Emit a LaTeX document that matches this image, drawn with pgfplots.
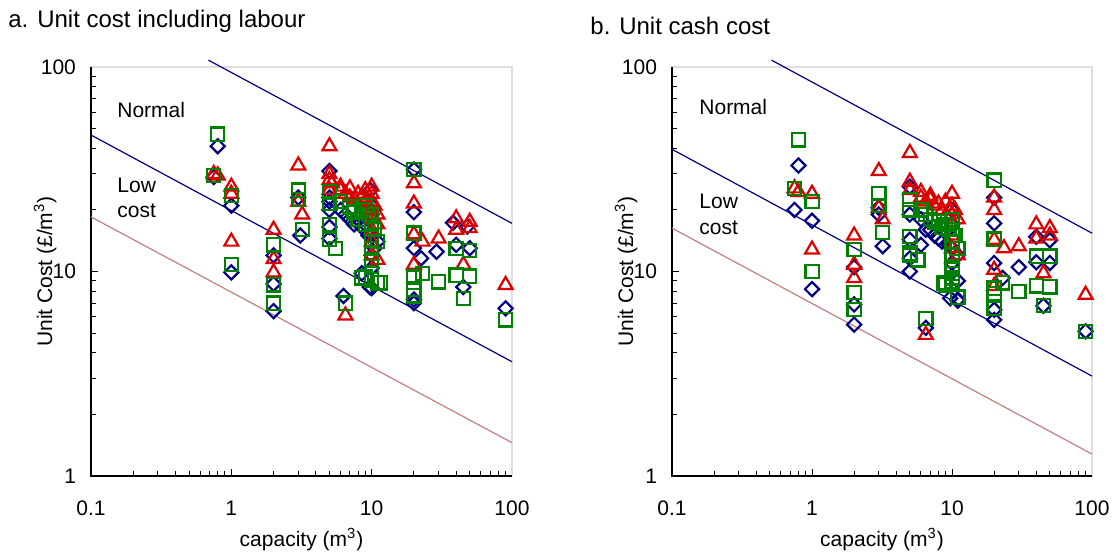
\documentclass[border=0pt]{standalone}
\usepackage{fontspec}
\setmainfont{Liberation Sans}
\usepackage{pgfplots}
\pgfplotsset{compat=1.18}
\definecolor{navy}{HTML}{000080}
\definecolor{cred}{HTML}{DD0000}
\definecolor{cgreen}{HTML}{008000}
\definecolor{brownl}{HTML}{C08080}
\pgfplotsset{
  dia/.style={only marks, mark=square, mark size=2.5pt, color=navy, mark options={rotate=45, solid, line width=1.1pt}},
  tri/.style={only marks, mark=triangle, mark size=4pt, color=cred, mark options={solid, line width=1.1pt}},
  sqr/.style={only marks, mark=square, mark size=3.3pt, color=cgreen, mark options={solid, line width=1.1pt}},
}
\begin{document}
\begin{tikzpicture}
\path[use as bounding box] (0,0) rectangle (556pt,276pt);
% ---------- left panel ----------
\begin{axis}[
    xmode=log, ymode=log, xmin=0.1, xmax=100, ymin=1, ymax=100,
    scale only axis, width=210.5pt, height=204.5pt, anchor=south west, at={(45.5pt,38pt)},
    xtick={0.1,1,10,100}, xticklabels={0.1,1,10,100},
    ytick={1,10,100}, yticklabels={1,10,100},
    minor xtick={0.2,0.3,0.4,0.5,0.6,0.7,0.8,0.9,2,3,4,5,6,7,8,9,20,30,40,50,60,70,80,90},
    minor ytick={2,3,4,5,6,7,8,9,20,30,40,50,60,70,80,90},
    tick align=inside, tick pos=left,
    major tick length=3.5pt, minor tick length=2.5pt,
    every tick/.style={black, line width=0.5pt},
    axis line style={draw=gray!25, line width=0.6pt},
    clip=false,
    font=\fontsize{10.5}{12.6}\selectfont,
    xticklabel style={anchor=center, yshift=-16pt},
    yticklabel style={anchor=east, xshift=-4pt},
    xlabel={capacity (m\textsuperscript{3})},
    ylabel={Unit Cost (£/m\textsuperscript{3})},
    x label style={at={(axis description cs:0.5,-0.156)}, anchor=center},
    y label style={at={(axis description cs:-0.109,0.5)}, rotate=0, anchor=center},
]
\draw[black, line width=0.6pt] (rel axis cs:0,1) -- (rel axis cs:0,0) -- (rel axis cs:1,0);
\addplot[navy, line width=0.6pt] coordinates {(0.687,108) (100,17.2)};
\addplot[navy, line width=0.6pt] coordinates {(0.1,46.5) (100,3.62)};
\addplot[brownl, line width=0.6pt] coordinates {(0.1,18.5) (100,1.455)};
\addplot[dia] coordinates {
(0.8,41) (0.75,29) (1,21) (1,9.9)
(2,12) (2,8.7) (2,6.4)
(3,23) (3.1,15)
(5,31) (5,23) (5,22) (5,20) (5,16.5) (5,14.5)
(6,20) (6.5,19) (7,18) (7.5,17) (8,18) (8.5,16.5) (9,17) (9.5,15) (9.8,25) (10,21) (10,19) (10,15) (10,12) (10.5,13) (11,14) (10,10.4) (10,8.3) (8.5,9.8) (9.7,8.4) (6.3,7.6)
(20,31.5) (20,19.5) (20,13) (22.5,11.6) (29,12.5) (20,7.3) (20,7) (38,17.3) (48,16.6) (40,13.5) (50,13) (45,8.4) (90,6.6)
};
\addplot[tri] coordinates {
(0.75,30) (0.8,29.5) (1,26) (1,24) (1,14)
(2,16) (2,11.5) (2,9.9)
(3,33) (3,22) (3.2,19)
(5,41) (5,30) (5,28) (5.2,27) (5,25) (6,26) (6,25) (7,25.5) (6.5,24) (7,23) (7.5,22.5) (8,24) (8.5,23) (9,22) (9,25) (9.5,21) (10,26) (10,24) (10,22) (10,20) (10.5,21) (11,19) (11,17) (10,18) (10,16) (10,14) (10,12) (11,11.4) (6.5,6.1)
(20,27) (20,21.5) (20,15.2) (23,14) (30,14.5) (20,10.8) (40,18.2) (50,17.5) (40,16) (50,16.3) (45,10.8) (90,8.6)
};
\addplot[sqr] coordinates {
(0.8,47) (0.75,29.5) (1,23.5) (1,10.8)
(2,13.5) (2,8.6) (2,7)
(3,25) (3,22.5) (3.2,16)
(5,24.5) (5,21.5) (5,17) (5,14.3) (5.5,13) (6,22) (7,20.7) (7.5,19.5) (8,18) (8.5,20) (9,21) (9,17) (9.5,19) (10,19) (10,17) (10,15) (10,13) (10,12.3) (10,11.4) (10,10.6) (10.5,16) (11,14) (9,9.4) (10,9.1) (11.5,8.8) (8.5,9.3) (11,8.8) (6.5,7)
(20,31.6) (20,15.4) (23,9.8) (20,9.4) (30,8.9) (20,8.2) (20,7.6) (40,13) (50,12.7) (40,9.6) (50,9.5) (45,7.4) (90,5.8)
};
\end{axis}
% ---------- right panel ----------
\begin{axis}[
    xmode=log, ymode=log, xmin=0.1, xmax=100, ymin=1, ymax=100,
    scale only axis, width=210pt, height=204.5pt, anchor=south west, at={(336pt,38pt)},
    xtick={0.1,1,10,100}, xticklabels={0.1,1,10,100},
    ytick={1,10,100}, yticklabels={1,10,100},
    minor xtick={0.2,0.3,0.4,0.5,0.6,0.7,0.8,0.9,2,3,4,5,6,7,8,9,20,30,40,50,60,70,80,90},
    minor ytick={2,3,4,5,6,7,8,9,20,30,40,50,60,70,80,90},
    tick align=inside, tick pos=left,
    major tick length=3.5pt, minor tick length=2.5pt,
    every tick/.style={black, line width=0.5pt},
    axis line style={draw=gray!25, line width=0.6pt},
    clip=false,
    font=\fontsize{10.5}{12.6}\selectfont,
    xticklabel style={anchor=center, yshift=-16pt},
    yticklabel style={anchor=east, xshift=-4pt},
    xlabel={capacity (m\textsuperscript{3})},
    ylabel={Unit Cost (£/m\textsuperscript{3})},
    x label style={at={(axis description cs:0.5,-0.156)}, anchor=center},
    y label style={at={(axis description cs:-0.109,0.5)}, rotate=0, anchor=center},
]
\draw[black, line width=0.6pt] (rel axis cs:0,1) -- (rel axis cs:0,0) -- (rel axis cs:1,0);
\addplot[navy, line width=0.6pt] coordinates {(0.514,108) (100,15.4)};
\addplot[navy, line width=0.6pt] coordinates {(0.1,39.6) (100,3.08)};
\addplot[brownl, line width=0.6pt] coordinates {(0.1,16.3) (100,1.28)};
\addplot[dia] coordinates {
(0.8,33) (0.75,20) (1,17.7) (1,8.2)
(2,10.5) (2,6.9) (2,5.5)
(3,20.5) (3,19) (3.2,13.3)
(5,26) (5,19) (5,14.3) (5,11.6) (5,10) (6,13.5) (6,18) (6.5,16) (7,16) (7.5,15) (8,14.5) (8.5,14) (9,15.5) (9.5,13.5) (10,20) (10,17) (10,13) (10,11) (11,12) (11,9) (9.7,7.4) (11,7.3) (6.5,5.3) (11,7.2)
(20,23) (20,17.2) (20,11) (30,10.5) (23,9.3) (20,6.5) (20,5.8) (40,14.8) (50,14.2) (40,11.1) (50,11) (45,6.8) (90,5.1)
};
\addplot[tri] coordinates {
(0.75,25.5) (0.8,24.5) (1,24) (1,12.8)
(2,15) (2,10.8) (2,9.3)
(3,31) (3,20.5) (3.2,18)
(5,38) (5,27.5) (5,25) (6,24.5) (7,23.5) (10,24) (6,23) (6.5,22) (7,22.5) (7.5,21) (8,21.5) (8.5,20) (9,22) (9.5,20) (10,21) (10,19) (10.5,20) (11,18) (10,17) (10,15) (10,13) (11,12) (6.5,4.9)
(20,23) (20,20) (20,14.3) (23.5,13) (30,13.3) (20,10.2) (20,8.5) (40,17) (50,16.3) (40,14.5) (50,15) (45,9.8) (90,7.7)
};
\addplot[sqr] coordinates {
(0.8,44) (0.75,25.5) (1,22) (1,10)
(2,12.8) (2,7.9) (2,6.5)
(3,24) (3,21) (3.2,15.5)
(5,22.5) (5,20) (5,14.8) (5,12.3) (5.7,11.4) (5,12) (6,20) (6.5,19) (7,18) (7.5,17.5) (8,17.5) (8.5,16.5) (9,17) (9.5,16) (10,18) (10,16) (10,14) (10,12) (10.5,15) (11,13) (10,10.6) (10,9.8) (10,8.9) (8.7,8.8) (11,7.5) (9,8.6) (10,10.2) (10,9.3) (6.5,5.9)
(20,28) (20,14.4) (23,8.8) (20,8.3) (20,7.8) (30,8) (20,6.6) (40,11.9) (50,11.9) (40,8.5) (50,8.4) (45,6.8) (90,5.1)
};
\end{axis}
% ---------- texts ----------
\begin{scope}[every node/.style={font=\fontsize{10.5}{12.6}\selectfont, inner sep=0pt}]
\node[anchor=west] at (58.5pt,221pt) {Normal};
\node[anchor=west] at (58.5pt,183.5pt) {Low};
\node[anchor=west] at (58.5pt,170.5pt) {cost};
\node[anchor=west] at (349.5pt,222.5pt) {Normal};
\node[anchor=west] at (349.5pt,175.5pt) {Low};
\node[anchor=west] at (349.5pt,162pt) {cost};
\end{scope}
\node[anchor=base west, inner sep=0pt, font=\fontsize{12}{14}\selectfont] at (4pt,262pt) {a. Unit cost including labour};
\node[anchor=base west, inner sep=0pt, font=\fontsize{12}{14}\selectfont] at (295pt,258.5pt) {b. Unit cash cost};
\end{tikzpicture}
\end{document}
